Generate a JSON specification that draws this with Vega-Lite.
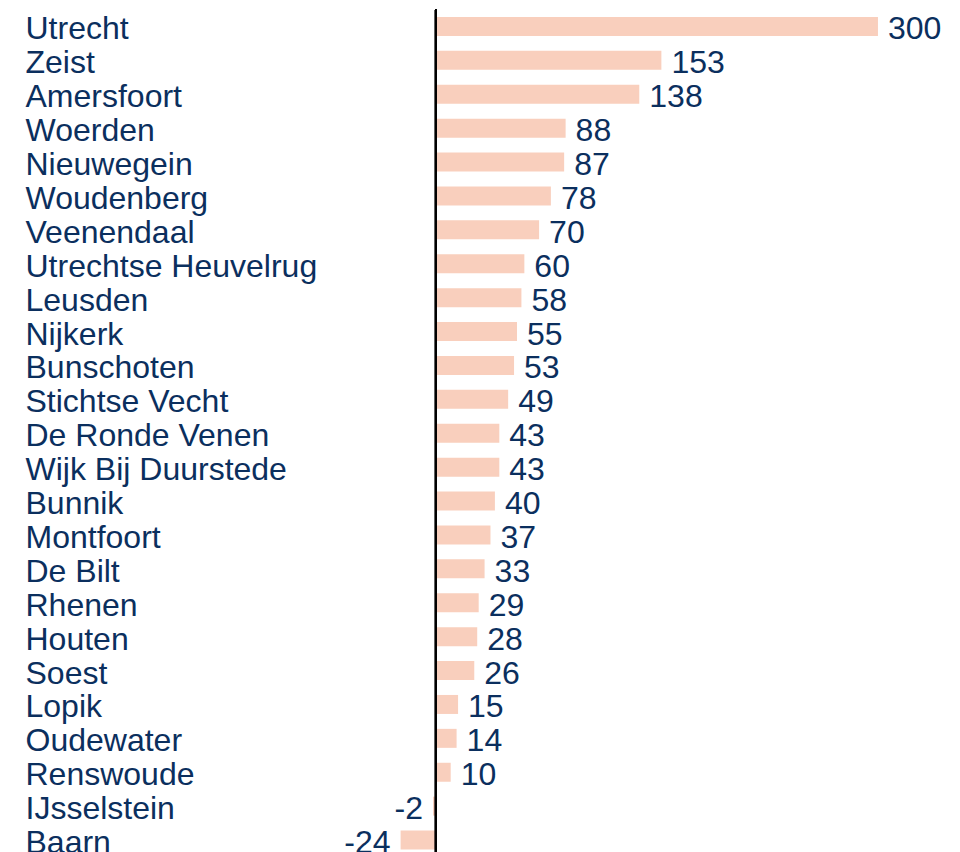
{
  "$schema": "https://vega.github.io/schema/vega-lite/v6.json",
  "width": 589.33,
  "height": 847.5,
  "autosize": {"type": "none"},
  "padding": {"left": 318.1, "top": 9.5, "right": 52.57, "bottom": 0},
  "background": "white",
  "config": {"view": {"stroke": null}, "font": "Liberation Sans"},
  "data": {"values": [
    {"name": "Utrecht", "value": 300},
    {"name": "Zeist", "value": 153},
    {"name": "Amersfoort", "value": 138},
    {"name": "Woerden", "value": 88},
    {"name": "Nieuwegein", "value": 87},
    {"name": "Woudenberg", "value": 78},
    {"name": "Veenendaal", "value": 70},
    {"name": "Utrechtse Heuvelrug", "value": 60},
    {"name": "Leusden", "value": 58},
    {"name": "Nijkerk", "value": 55},
    {"name": "Bunschoten", "value": 53},
    {"name": "Stichtse Vecht", "value": 49},
    {"name": "De Ronde Venen", "value": 43},
    {"name": "Wijk Bij Duurstede", "value": 43},
    {"name": "Bunnik", "value": 40},
    {"name": "Montfoort", "value": 37},
    {"name": "De Bilt", "value": 33},
    {"name": "Rhenen", "value": 29},
    {"name": "Houten", "value": 28},
    {"name": "Soest", "value": 26},
    {"name": "Lopik", "value": 15},
    {"name": "Oudewater", "value": 14},
    {"name": "Renswoude", "value": 10},
    {"name": "IJsselstein", "value": -2},
    {"name": "Baarn", "value": -24}
  ]},
  "layer": [
    {
      "mark": {"type": "bar", "color": "#f9cfbd"},
      "encoding": {
        "x": {"field": "value", "type": "quantitative", "scale": {"domain": [-80, 320], "nice": false, "zero": false}, "axis": null},
        "y": {"field": "name", "type": "nominal", "sort": null,
          "scale": {"paddingInner": 0.44, "paddingOuter": 0.22},
          "axis": {"title": null, "domain": false, "ticks": false, "tickSize": 0, "labelAlign": "left", "labelPadding": 293.1, "labelOffset": 3, "labelFontSize": 32, "labelColor": "#0b2f5e", "labelLimit": 600, "labelBaseline": "middle", "labelFont": "Liberation Sans"}}
      }
    },
    {
      "mark": {"type": "rule", "color": "black", "strokeWidth": 2},
      "encoding": {"x": {"datum": 0}}
    },
    {
      "transform": [{"filter": "datum.value >= 0"}],
      "mark": {"type": "text", "align": "left", "baseline": "middle", "dx": 10, "dy": 3, "fontSize": 32, "color": "#0b2f5e", "font": "Liberation Sans"},
      "encoding": {
        "x": {"field": "value", "type": "quantitative"},
        "y": {"field": "name", "type": "nominal", "sort": null},
        "text": {"field": "value", "type": "nominal"}
      }
    },
    {
      "transform": [{"filter": "datum.value < 0"}],
      "mark": {"type": "text", "align": "right", "baseline": "middle", "dx": -10, "dy": 3, "fontSize": 32, "color": "#0b2f5e", "font": "Liberation Sans"},
      "encoding": {
        "x": {"field": "value", "type": "quantitative"},
        "y": {"field": "name", "type": "nominal", "sort": null},
        "text": {"field": "value", "type": "nominal"}
      }
    }
  ]
}
